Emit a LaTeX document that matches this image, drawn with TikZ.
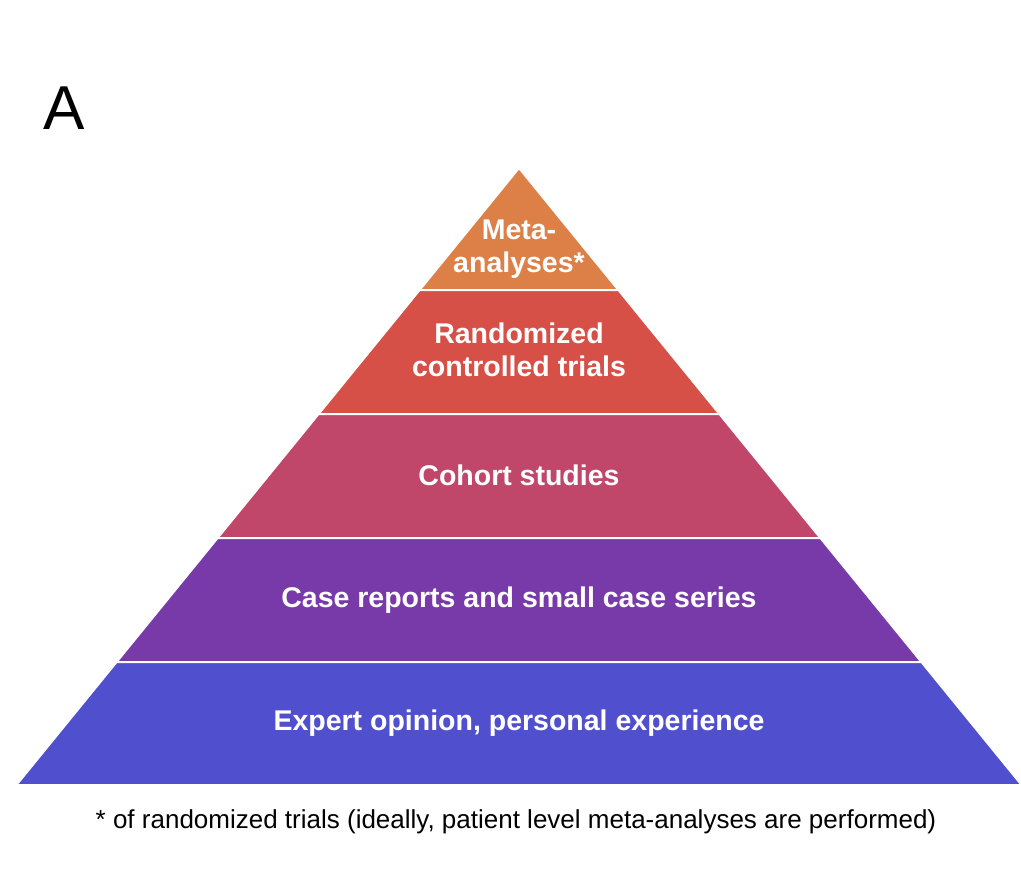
\documentclass[tikz,border=0pt]{standalone}
\usepackage{fontspec}
\setmainfont{Liberation Sans}
\usepackage{xcolor}
\usetikzlibrary{positioning}

\definecolor{tierMeta}{RGB}{221,128,72}
\definecolor{tierRct}{RGB}{214,80,72}
\definecolor{tierCohort}{RGB}{192,70,106}
\definecolor{tierCase}{RGB}{120,58,168}
\definecolor{tierExpert}{RGB}{80,80,206}

\tikzset{
    tier/.style={draw=white, line width=2pt, line join=miter},
    tierlabel/.style={text=white, font=\fontsize{28.5}{33}\selectfont\bfseries, align=center}
}

\begin{document}
\begin{tikzpicture}[x=1pt, y=-1pt]
    \useasboundingbox (0,0) rectangle (1021,881);
    \fill[white] (0,0) rectangle (1021,881);

    % Panel letters
    \node[font=\fontsize{62}{64}\selectfont] (panelA) at (64,108) {A};
    \begin{scope}
        \clip (0,0) rectangle (1021,881);
        \node[font=\fontsize{62}{64}\selectfont] (panelB) at (1037,108) {B};
    \end{scope}

    % Tiers: top y / bottom y / label y / colour / name / label
    \foreach \ya/\yb/\yt/\col/\name/\txt in {
        168/290/249/tierMeta/meta/{Meta-\\analyses*},
        290/414/350/tierRct/rct/{Randomized\\controlled trials},
        414/538/475/tierCohort/cohort/{Cohort studies},
        538/662/600/tierCase/caseser/{Case reports and small case series},
        662/785/723/tierExpert/expert/{Expert opinion, personal experience}} {
        \pgfmathsetmacro{\xla}{519-0.8146*(\ya-168)}
        \pgfmathsetmacro{\xra}{519+0.8146*(\ya-168)}
        \pgfmathsetmacro{\xlb}{519-0.8146*(\yb-168)}
        \pgfmathsetmacro{\xrb}{519+0.8146*(\yb-168)}
        \filldraw[tier, fill=\col] (\xla,\ya) -- (\xra,\ya) -- (\xrb,\yb) -- (\xlb,\yb) -- cycle;
        \node[tierlabel] (\name) at (519,\yt) {\txt};
    }

    % Footnote
    \node[font=\fontsize{26}{30}\selectfont] (note) at (516,822)
        {* of randomized trials (ideally, patient level meta-analyses are performed)};
\end{tikzpicture}
\end{document}
